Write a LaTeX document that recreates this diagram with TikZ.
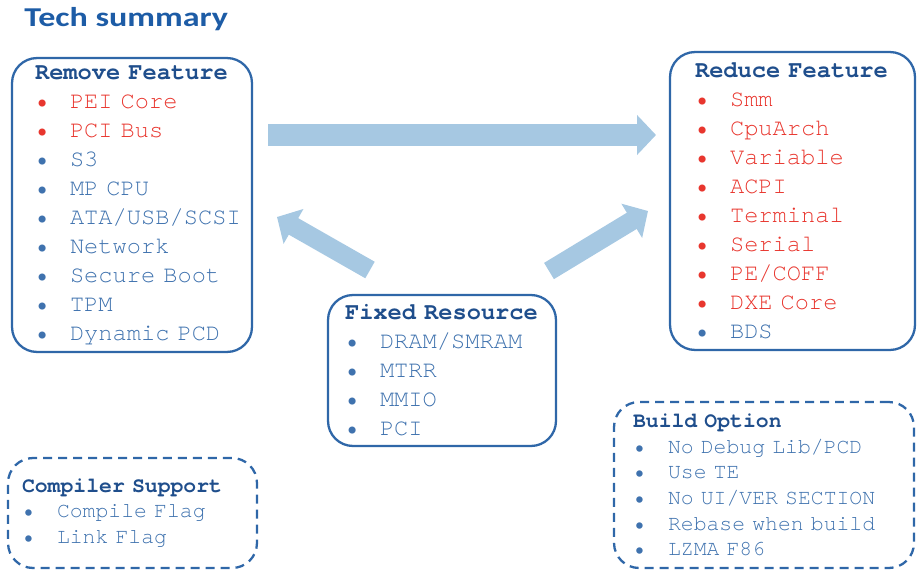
\documentclass[tikz,border=0pt]{standalone}
\usepackage{fontspec}
\setmainfont{Liberation Serif}
\setsansfont{Carlito}
\setmonofont{TeX Gyre Cursor}
\usetikzlibrary{arrows.meta}
\definecolor{navy}{HTML}{1F4E8C}
\definecolor{itemblue}{HTML}{3F72AE}
\definecolor{itemred}{HTML}{E8362E}
\definecolor{arrowblue}{HTML}{A6C8E2}
\definecolor{frameblue}{HTML}{2F67A8}
\definecolor{headblue}{HTML}{1D5CA6}
\newcommand{\itm}[2]{\makebox[0.7cm][l]{\textcolor{#1}{\textbullet}}\textcolor{#1}{#2}}
\newcommand{\hd}[1]{\textcolor{navy}{\textbf{#1}}}

\begin{document}
\begin{tikzpicture}[
  x=0.02cm, y=-0.02cm,
  panel/.style={rectangle, draw=frameblue, line width=1.3pt, rounded corners=0.5cm, inner sep=0pt, align=left, text width=#1},
  indent/.style={execute at begin node={\leftskip=#1}},
  bigtxt/.style={font=\ttfamily\fontsize{13.5pt}{16.5pt}\selectfont},
  smalltxt/.style={font=\ttfamily\fontsize{12.2pt}{14.6pt}\selectfont},
  optbox/.style={dash pattern=on 0.18cm off 0.12cm},
  fat/.style={draw=arrowblue, line width=#1, -{Triangle[length=0.38cm, width=0.78cm]}}
]
\useasboundingbox (0,0) rectangle (919,571);
\node[anchor=base west, inner sep=0pt, font=\sffamily\bfseries\fontsize{15.5pt}{18pt}\selectfont, text=headblue] (title) at (24,27) {\scalebox{1.25}[1]{Tech summary}};

\node[panel=4.8cm, bigtxt, minimum height=5.88cm, indent=0.46cm] (remove) at (132,205) {\hd{Remove Feature}\\
\itm{itemred}{PEI Core}\\ \itm{itemred}{PCI Bus}\\ \itm{itemblue}{S3}\\ \itm{itemblue}{MP CPU}\\
\itm{itemblue}{ATA/USB/SCSI}\\ \itm{itemblue}{Network}\\ \itm{itemblue}{Secure Boot}\\
\itm{itemblue}{TPM}\\ \itm{itemblue}{Dynamic PCD}};

\node[panel=4.9cm, bigtxt, minimum height=5.96cm, indent=0.5cm] (reduce) at (792.5,201) {\hd{Reduce Feature}\\
\itm{itemred}{Smm}\\ \itm{itemred}{CpuArch}\\ \itm{itemred}{Variable}\\ \itm{itemred}{ACPI}\\
\itm{itemred}{Terminal}\\ \itm{itemred}{Serial}\\ \itm{itemred}{PE/COFF}\\
\itm{itemred}{DXE Core}\\ \itm{itemblue}{BDS}};

\node[panel=4.56cm, bigtxt, minimum height=3.02cm, indent=0.34cm] (fixed) at (442,370.5) {\hd{Fixed Resource}\\
\itm{itemblue}{DRAM/SMRAM}\\ \itm{itemblue}{MTRR}\\ \itm{itemblue}{MMIO}\\ \itm{itemblue}{PCI}};

\node[panel=4.98cm, optbox, smalltxt, minimum height=2.2cm, indent=0.28cm] (compiler) at (132.5,513) {\hd{Compiler Support}\\
\itm{itemblue}{Compile Flag}\\ \itm{itemblue}{Link Flag}};

\node[panel=6cm, optbox, smalltxt, minimum height=3.32cm, indent=0.38cm] (build) at (764,485) {\hd{Build Option}\\
\itm{itemblue}{No Debug Lib/PCD}\\ \itm{itemblue}{Use TE}\\ \itm{itemblue}{No UI/VER SECTION}\\
\itm{itemblue}{Rebase when build}\\ \itm{itemblue}{LZMA F86}};

\coordinate (h1) at (268,135);
\coordinate (h2) at (656,135);
\coordinate (l1) at (370,270);
\coordinate (l2) at (277,217);
\coordinate (r1) at (549,271);
\coordinate (r2) at (648,211);
\draw[fat=0.44cm] (h1) -- (h2);
\draw[fat=0.38cm] (l1) -- (l2);
\draw[fat=0.38cm] (r1) -- (r2);
\end{tikzpicture}
\end{document}
